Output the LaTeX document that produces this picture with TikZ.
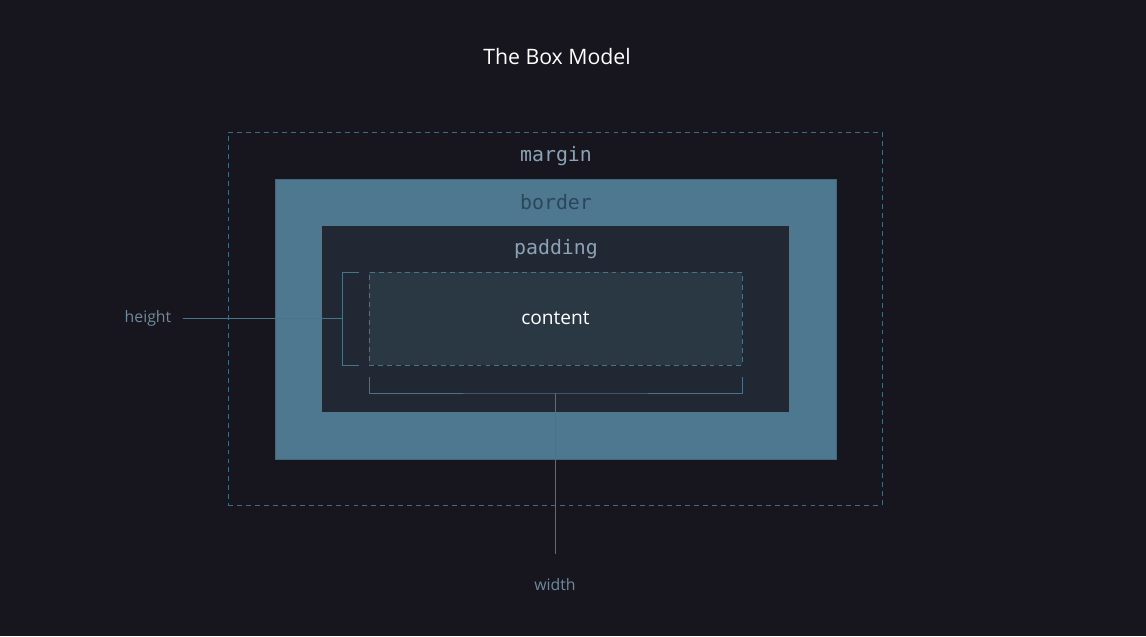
\documentclass[tikz,border=0pt]{standalone}
\usepackage{fontspec}
\setmainfont{Open Sans}
\setmonofont{DejaVu Sans Mono}
\usetikzlibrary{positioning}
\definecolor{bgcol}{HTML}{17161F}
\definecolor{margincol}{HTML}{3F6B81}
\definecolor{bordercol}{HTML}{4E788F}
\definecolor{paddingcol}{HTML}{212834}
\definecolor{contentcol}{HTML}{2A3844}
\definecolor{linecol}{HTML}{4A7389}
\definecolor{dimtext}{HTML}{6E8A9C}
\definecolor{labtext}{HTML}{8BA3B5}
\definecolor{bordertext}{HTML}{2A465B}

\begin{document}
\begin{tikzpicture}%
[x=0.02cm, y=-0.02cm,%
box/.style={shape=rectangle, inner sep=0pt, anchor=center},%
layer/.style={font=\ttfamily\fontsize{11.3}{13}\selectfont, inner sep=0pt},%
dim/.style={font=\fontsize{9}{11}\selectfont, text=dimtext, inner sep=0pt},%
bracket/.style={draw=linecol, line width=0.45pt}]
\fill[bgcol] (0,0) rectangle (1146,636);
\useasboundingbox (0,0) rectangle (1146,636);
\node[white, font=\fontsize{12.1}{14}\selectfont] (title) at (557,57) {The Box Model};
% boxes
\node[box, draw=margincol, dashed, dash pattern=on 2.8pt off 2.3pt, line width=0.5pt,%
  minimum width=13.08cm, minimum height=7.46cm] (margin) at (555,318.5) {};
\node[box, fill=bordercol, draw=bordercol!85!black, line width=0.5pt,%
  minimum width=11.22cm, minimum height=5.6cm] (border) at (555.5,319) {};
\node[box, fill=paddingcol, minimum width=9.34cm, minimum height=3.72cm] (padding) at (555.5,319) {};
\node[box, fill=contentcol, draw=linecol, dashed, dash pattern=on 2.8pt off 2.3pt, line width=0.45pt,%
  minimum width=7.46cm, minimum height=1.86cm] (content) at (555.5,318.5) {};
\node[layer, text=labtext] (marginlab) at (556,156) {margin};
\node[layer, text=bordertext] (borderlab) at (556,202.5) {border};
\node[layer, text=labtext] (paddinglab) at (556,249) {padding};
\node[white, font=\fontsize{10.9}{13}\selectfont] (contentlab) at (content.center) {content};
% height
\coordinate (htop) at (359,272);
\coordinate (hbot) at (359,365);
\coordinate (hmid) at (342,318);
\draw[bracket] (htop) -- ++(-17,0) |- (hbot);
\node[dim] (height) at (148,318) {height};
\draw[bracket] ([xshift=0.22cm]height.east) -- (hmid);
% width
\coordinate (wleft) at (369,377);
\coordinate (wright) at (742,377);
\coordinate (wmid) at (555,393);
\draw[bracket] (wleft) |- (wmid) -| (wright);
\node[dim] (width) at (555,585) {width};
\draw[bracket] (wmid) -- ([yshift=0.5cm]width.north);
\end{tikzpicture}
\end{document}
